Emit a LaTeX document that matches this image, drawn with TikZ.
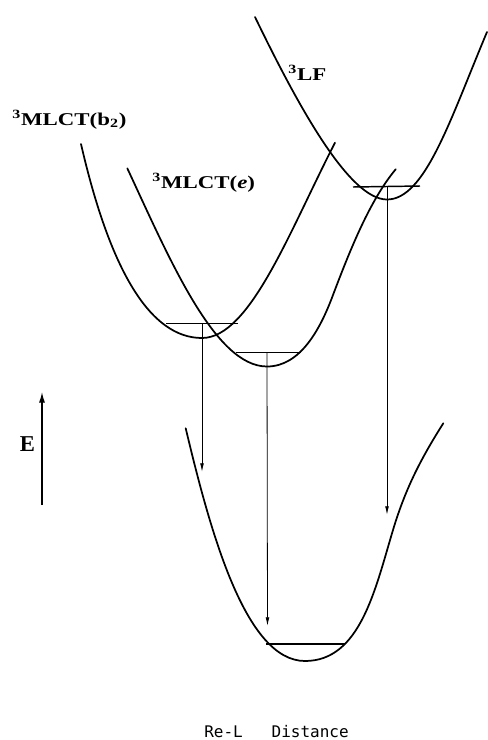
\documentclass[tikz,border=0pt]{standalone}
\usepackage{fontspec}
\setmainfont{Liberation Serif}
\newfontfamily\axisfont{DejaVu Sans Mono}
\usetikzlibrary{arrows.meta}
\begin{document}
\begin{tikzpicture}[x=0.75pt,y=-0.75pt,
  pes/.style={line width=1.3pt,line join=round,line cap=round},
  lvl/.style={line width=1.1pt},
  emis/.style={line width=0.6pt,-{Latex[length=6.5pt,width=2.8pt]}},
  lbl/.style={inner sep=0pt,anchor=base west,font=\fontsize{13.5}{15}\selectfont\bfseries}]
\useasboundingbox (0,0) rectangle (488,740);

% 3LF surface
\draw[pes] (255,17) .. controls (300,110) and (350,199.5) .. (387,199.5)
           .. controls (425,199.5) and (450,120) .. (487,32);
% 3MLCT(b2) surface
\draw[pes] (81,144) .. controls (110,270) and (150,338) .. (202,338)
           .. controls (250,338) and (290,230) .. (335,142.7);
% 3MLCT(e) surface
\draw[pes] (127.3,168.3) .. controls (170,260) and (215,366.5) .. (267,366.5)
           .. controls (300,366.5) and (320,330) .. (333,295)
           .. controls (350,250) and (370,200) .. (395.7,169.3);
% ground state surface
\draw[pes] (185.7,428.3) .. controls (210,530) and (245,661) .. (305,661)
           .. controls (360,661) and (375,590) .. (393,530)
           .. controls (405,490) and (420,460) .. (443.3,423.3);

% vibrational levels
\draw[lvl] (353,187) -- (420,186);
\draw[lvl] (166,323.5) -- (238,323.5);
\draw[lvl] (236,352.5) -- (301,352.5);
\draw[lvl] (266,644) -- (345,644);

% emission arrows
\coordinate (lfv) at (387,186.5);
\coordinate (lft) at (387,515);
\coordinate (b2v) at (202,323.5);
\coordinate (b2t) at (202,472);
\coordinate (ev) at (267,352.5);
\coordinate (et) at (267.5,626);
\draw[emis] (lfv) -- (lft);
\draw[emis] (b2v) -- (b2t);
\draw[emis] (ev) -- (et);

% labels
\node[lbl] (lf) at (288,80) {\scalebox{1.27}[1]{\textsuperscript{3}LF}};
\node[lbl] (b2) at (12,125) {\scalebox{1.27}[1]{\textsuperscript{3}MLCT(b\textsubscript{2})}};
\node[lbl] (me) at (152,188) {\scalebox{1.27}[1]{\textsuperscript{3}MLCT(\textit{e})}};

% energy axis
\coordinate (ebot) at (42,505);
\coordinate (etop) at (42,392);
\draw[line width=0.9pt,-{Latex[length=8pt,width=4.5pt]}] (ebot) -- (etop);
\node[inner sep=0pt,font=\fontsize{17}{17}\selectfont\bfseries] (E) at (27.5,444.5) {E};

% distance axis label
\node[inner sep=0pt,anchor=base west,font=\axisfont\fontsize{12}{13}\selectfont] (ax) at (204,737) {Re-L\ \ \ Distance};
\end{tikzpicture}
\end{document}
